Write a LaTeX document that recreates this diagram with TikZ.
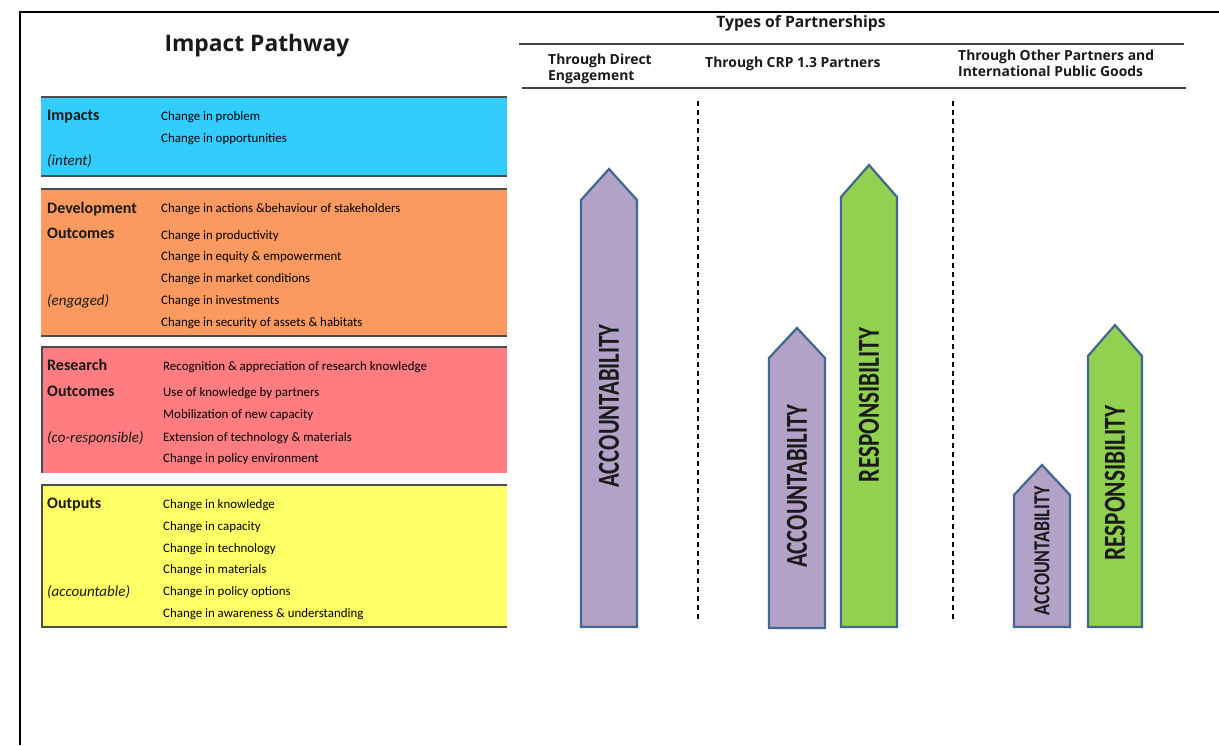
\documentclass[tikz,border=0pt]{standalone}
\usepackage{graphicx}
\usepackage{fontspec}
\setmainfont{Carlito}
\newfontfamily\headfont{Open Sans}
\definecolor{cblue}{HTML}{33CCFF}
\definecolor{corange}{HTML}{FA9A60}
\definecolor{cred}{HTML}{FF7C80}
\definecolor{cyellow}{HTML}{FFFF66}
\definecolor{cpurple}{HTML}{B3A2C7}
\definecolor{cgreen}{HTML}{92D050}
\definecolor{cedge}{HTML}{43678F}
\definecolor{ctext}{HTML}{1A1A1A}
\tikzset{
  bandline/.style={draw=black!70, line width=1.2pt},
  lab/.style={anchor=base west, inner sep=0pt, font=\fontsize{16}{18}\selectfont\bfseries, text=ctext},
  qual/.style={anchor=base west, inner sep=0pt, font=\fontsize{15}{17}\selectfont\itshape, text=ctext},
  item/.style={anchor=base west, inner sep=0pt, font=\fontsize{12.9}{14}\selectfont, text=black},
  uparrow/.style={draw=cedge, line width=2.2pt, line join=miter},
  arrowlab/.style={rotate=90, inner sep=0pt, font=\bfseries, text=ctext},
  sep/.style={draw=black, line width=2pt, dash pattern=on 5pt off 4pt},
  rule/.style={draw=black!75, line width=1.5pt},
  colhead/.style={anchor=base west, inner sep=0pt, font=\headfont\fontsize{13.9}{16}\selectfont\bfseries, text=ctext},
}
\begin{document}
\begin{tikzpicture}[x=1pt, y=-1pt]
\useasboundingbox (0,0) rectangle (1219,745);
\fill[white] (0,0) rectangle (1219,745);
% frame
\draw[line width=2.5pt] (20,745) -- (20,12) -- (1219,12);

% ---------- left: impact pathway ----------
\node[font=\headfont\fontsize{22.8}{24}\selectfont\bfseries, text=ctext] (ip) at (257,46) {Impact Pathway};

\fill[cblue] (41,97) rectangle (507,176);
\draw[bandline] (41,97) -- (507,97); \draw[bandline] (41,176) -- (507,176);
\fill[corange] (41,189) rectangle (507,336);
\draw[bandline] (41,189) -- (507,189); \draw[bandline] (41,336) -- (507,336);
\fill[cred] (42,347) rectangle (507,473);
\draw[bandline] (42,473) -- (42,347) -- (507,347);
\fill[cyellow] (42,485) rectangle (507,627);
\draw[bandline] (507,485) -- (42,485) -- (42,627) -- (507,627);

% blue
\node[lab] (l1) at (47,120) {Impacts};
\node[qual] (q1) at (47,165) {(intent)};
\node[item] (i11) at (161,120) {Change in problem};
\node[item] (i12) at (161,142) {Change in opportunities};
% orange
\node[lab] (l2a) at (47,213) {Development};
\node[lab] (l2b) at (47,238) {Outcomes};
\node[qual] (q2) at (47,305) {(engaged)};
\node[item] (i21) at (161,212) {Change in actions \&behaviour of stakeholders};
\node[item] (i22) at (161,239) {Change in productivity};
\node[item] (i23) at (161,260) {Change in equity \& empowerment};
\node[item] (i24) at (161,282) {Change in market conditions};
\node[item] (i25) at (161,304) {Change in investments};
\node[item] (i26) at (161,326) {Change in security of assets \& habitats};
% red
\node[lab] (l3a) at (47,370) {Research};
\node[lab] (l3b) at (47,396) {Outcomes};
\node[qual] (q3) at (47,442) {(co-responsible)};
\node[item] (i31) at (163,370) {Recognition \& appreciation of research knowledge};
\node[item] (i32) at (163,396) {Use of knowledge by partners};
\node[item] (i33) at (163,418) {Mobilization of new capacity};
\node[item] (i34) at (163,441) {Extension of technology \& materials};
\node[item] (i35) at (163,462) {Change in policy environment};
% yellow
\node[lab] (l4) at (47,508) {Outputs};
\node[qual] (q4) at (47,596) {(accountable)};
\node[item] (i41) at (163,508) {Change in knowledge};
\node[item] (i42) at (163,530) {Change in capacity};
\node[item] (i43) at (163,552) {Change in technology};
\node[item] (i44) at (163,573) {Change in materials};
\node[item] (i45) at (163,595) {Change in policy options};
\node[item] (i46) at (163,617) {Change in awareness \& understanding};

% ---------- right: partnerships ----------
\node[font=\headfont\fontsize{15.7}{18}\selectfont\bfseries, text=ctext] (tp) at (801,23) {Types of Partnerships};
\draw[rule] (519,44) -- (1184,44);
\draw[rule] (522,88) -- (1186,88);
\node[colhead] (c1a) at (548,64) {Through Direct};
\node[colhead] (c1b) at (548,80) {Engagement};
\node[colhead] (c2) at (705,67) {Through CRP 1.3 Partners};
\node[colhead] (c3a) at (958,60) {Through Other Partners and};
\node[colhead] (c3b) at (958,76) {International Public Goods};

\draw[sep] (698,101) -- (698,620);
\draw[sep] (953,101) -- (953,620);

% arrows
\draw[uparrow, fill=cpurple] (581,627) -- (581,200) -- (609,169) -- (637,200) -- (637,627) -- cycle;
\draw[uparrow, fill=cpurple] (769,628) -- (769,358) -- (797,328) -- (825,358) -- (825,628) -- cycle;
\draw[uparrow, fill=cgreen] (841,627) -- (841,197) -- (869,165) -- (897,197) -- (897,627) -- cycle;
\draw[uparrow, fill=cpurple] (1014,627) -- (1014,495) -- (1042,465) -- (1070,495) -- (1070,627) -- cycle;
\draw[uparrow, fill=cgreen] (1088,627) -- (1088,356) -- (1115,325) -- (1142,356) -- (1142,627) -- cycle;

\node[arrowlab] (a1) at (609,406) {\resizebox{163pt}{20pt}{ACCOUNTABILITY}};
\node[arrowlab] (a2) at (797,486) {\resizebox{163pt}{20pt}{ACCOUNTABILITY}};
\node[arrowlab] (a3) at (869,405) {\resizebox{154pt}{20pt}{RESPONSIBILITY}};
\node[arrowlab] (a4) at (1042,551) {\resizebox{129pt}{15pt}{ACCOUNTABILITY}};
\node[arrowlab] (a5) at (1115,483) {\resizebox{155pt}{20pt}{RESPONSIBILITY}};
\end{tikzpicture}
\end{document}
